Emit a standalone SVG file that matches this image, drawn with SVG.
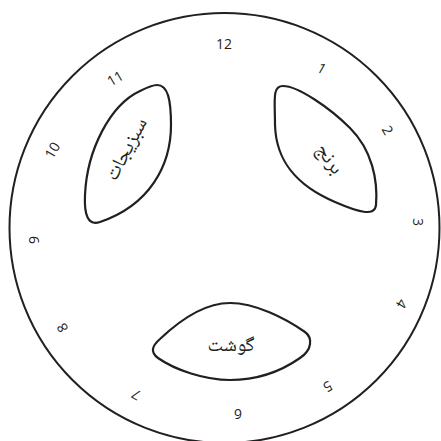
<svg xmlns="http://www.w3.org/2000/svg" width="441" height="441" viewBox="0 0 441 441">
<style>
.plate{fill:#fff;stroke:#231f20;stroke-width:2}
.blob{fill:#fff;stroke:#231f20;stroke-width:2.2}
.num{font-family:"Open Sans","Noto Sans",sans-serif;font-size:14px;fill:#231f20;text-anchor:middle;dominant-baseline:central}
.lbl{font-family:"Noto Naskh Arabic","DejaVu Sans",sans-serif;font-size:20px;fill:#231f20;text-anchor:middle;dominant-baseline:central}
</style>
<rect width="441" height="441" fill="#fff"/>
<g id="plate">
<circle class="plate" cx="224.5" cy="228" r="215"/>
</g>
<g id="numbers">
<text class="num" transform="translate(224,43)">12</text>
<text class="num" transform="translate(322,68) rotate(30)">1</text>
<text class="num" transform="translate(388,130) rotate(60)">2</text>
<text class="num" transform="translate(418,222) rotate(90)">3</text>
<text class="num" transform="translate(402,304) rotate(120)">4</text>
<text class="num" transform="translate(328,387) rotate(150)">5</text>
<text class="num" transform="translate(238,414) rotate(180)">6</text>
<text class="num" transform="translate(136,395) rotate(210)">7</text>
<text class="num" transform="translate(62,328) rotate(240)">8</text>
<text class="num" transform="translate(33,240) rotate(270)">9</text>
<text class="num" transform="translate(52,150) rotate(300)">10</text>
<text class="num" transform="translate(115,78) rotate(330)">11</text>
</g>
<g id="vegetables">
<path class="blob" d="M157,85 C168,85 171,100 171,125 C171,165 150,205 100,222 C88,226 84,215 85,195 C87,150 110,105 140,91 C148,87 152,85 157,85 Z"/>
<text class="lbl" transform="translate(128,150) rotate(-62)">سبزیجات</text>
</g>
<g id="rice">
<path class="blob" d="M283,86 C272,86 275,100 275,125 C276,160 295,185 335,202 C358,212 375,217 376,205 C378,180 372,150 350,128 C330,108 298,86 283,86 Z"/>
<text class="lbl" transform="translate(328,160) rotate(55)">برنج</text>
</g>
<g id="meat">
<path class="blob" d="M160,339 C180,320 205,303 230,303 C255,303 285,318 305,332 C313,338 312,350 300,358 C280,372 255,380 230,380 C205,380 175,370 158,358 C150,352 152,346 160,339 Z"/>
<text class="lbl" transform="translate(231,347)">گوشت</text>
</g>
<g id="connectors"/>
</svg>
